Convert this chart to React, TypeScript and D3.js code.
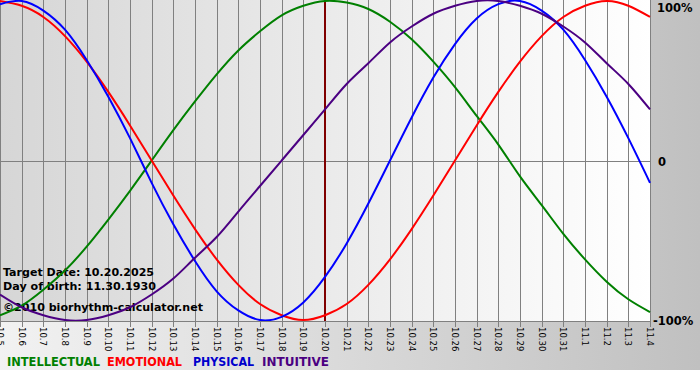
import React from "react";
import * as d3 from "d3";

const days = ["10.5","10.6","10.7","10.8","10.9","10.10","10.11","10.12","10.13","10.14","10.15","10.16","10.17","10.18","10.19","10.20","10.21","10.22","10.23","10.24","10.25","10.26","10.27","10.28","10.29","10.30","10.31","11.1","11.2","11.3","11.4"];

const intellectual = [-0.97,-0.91,-0.81,-0.69,-0.54,-0.37,-0.19,0,0.19,0.37,0.54,0.69,0.81,0.91,0.97,1.0,0.99,0.95,0.87,0.76,0.62,0.46,0.28,0.1,-0.1,-0.28,-0.46,-0.62,-0.76,-0.87,-0.95];
const emotional = [1.0,0.97,0.9,0.78,0.62,0.43,0.22,0,-0.22,-0.43,-0.62,-0.78,-0.9,-0.97,-1.0,-0.97,-0.9,-0.78,-0.62,-0.43,-0.22,0,0.22,0.43,0.62,0.78,0.9,0.97,1.0,0.97,0.9];
const physical = [0.98,1.0,0.94,0.82,0.63,0.4,0.14,-0.14,-0.4,-0.63,-0.82,-0.94,-1.0,-0.98,-0.89,-0.73,-0.52,-0.27,0,0.27,0.52,0.73,0.89,0.98,1.0,0.94,0.82,0.63,0.4,0.14,-0.14];
const intuitive = [-0.84,-0.92,-0.97,-1.0,-1.0,-0.97,-0.92,-0.84,-0.74,-0.61,-0.48,-0.32,-0.16,0,0.16,0.32,0.48,0.61,0.74,0.84,0.92,0.97,1.0,1.0,0.97,0.92,0.84,0.74,0.61,0.48,0.32];

const seriesNames = ["INTELLECTUAL", "EMOTIONAL", "PHYSICAL", "INTUITIVE"];
const yTickLabels = ["100%", "0", "-100%"];
const yTickValues = [1, 0, -1];
const targetDay = "10.20";
const infoLines = ["Target Date: 10.20.2025", "Day of birth: 11.30.1930", "©2010 biorhythm-calculator.net"];

const colors = ["#008000", "#ff0000", "#0000ff", "#4b0082"];
const legendColors = ["#008000", "#ff0000", "#0000cc", "#4b0082"];

export default function App() {
  const W = 700, H = 370;
  const plotL = 0, plotR = 650, plotT = 0, plotB = 321;
  const x = d3.scalePoint<string>().domain(days).range([plotL, plotR]);
  const y = d3.scaleLinear().domain([-1, 1]).range([plotB - 1, plotT + 1]);
  const line = d3.line<number>()
    .x((_, i) => x(days[i]) as number)
    .y((d) => y(d))
    .curve(d3.curveNatural);
  const data = [intellectual, emotional, physical, intuitive];
  const font = "'DejaVu Sans', Verdana, sans-serif";
  const crisp = (v: number) => Math.round(v) + 0.5;

  const legendX = [7, 107, 193, 262];
  const legendW = [93, 75, 61, 67];
  const infoY = [276, 290, 311];
  const infoW = [151, 153, 200];

  return (
    <svg width={W} height={380} style={{ position: "absolute", left: 0, top: 0 }} fontFamily={font}>
      <defs>
        <linearGradient id="outerBg" x1="0" x2="1" y1="0" y2="0">
          <stop offset="0" stopColor="#f2f2f2" />
          <stop offset="1" stopColor="#c0c0c0" />
        </linearGradient>
        <linearGradient id="plotBg" x1="0" x2="1" y1="0" y2="0">
          <stop offset="0" stopColor="#d6d6d6" />
          <stop offset="1" stopColor="#ffffff" />
        </linearGradient>
        <clipPath id="plotClip">
          <rect x={plotL} y={plotT} width={plotR - plotL + 1} height={plotB - plotT} />
        </clipPath>
      </defs>
      <rect x={0} y={0} width={W} height={380} fill="#ffffff" />
      <rect x={0} y={0} width={W} height={H} fill="url(#outerBg)" />
      <rect x={plotL} y={plotT} width={plotR - plotL + 1} height={plotB - plotT} fill="url(#plotBg)" />
      {days.map((d) => (
        <line key={d} x1={crisp(x(d) as number)} x2={crisp(x(d) as number)} y1={plotT} y2={plotB + 6} stroke="#808080" strokeWidth={1} />
      ))}
      <line x1={plotL} x2={plotR + 1} y1={crisp(y(0))} y2={crisp(y(0))} stroke="#808080" strokeWidth={1} />
      <line x1={plotL} x2={plotR + 1} y1={crisp(plotB)} y2={crisp(plotB)} stroke="#808080" strokeWidth={1} />
      <line x1={x(targetDay) as number} x2={x(targetDay) as number} y1={plotT} y2={plotB} stroke="#800000" strokeWidth={2} />
      <g fontSize={11} fontWeight="bold" fill="#000">
        {infoLines.map((t, i) => (
          <text key={t} x={3} y={infoY[i]} textLength={infoW[i]} lengthAdjust="spacingAndGlyphs">{t}</text>
        ))}
      </g>
      <g clipPath="url(#plotClip)">
        {data.map((s, i) => (
          <path key={seriesNames[i]} d={line(s) || ""} fill="none" stroke={colors[i]} strokeWidth={2} />
        ))}
      </g>
      <g fontSize={11.5} fontWeight="bold" fill="#000">
        {yTickValues.map((v, i) => (
          <text key={v} x={v === 0 ? 658 : v === 1 ? 657 : 653} y={y(v) + (v === 1 ? 11 : 5)}>{yTickLabels[i]}</text>
        ))}
      </g>
      <g fontSize={8.5} fill="#000">
        {days.map((d) => (
          <text key={d} transform={`translate(${(x(d) as number) - 3},${plotB + 6}) rotate(90)`} x={0} y={0}>{d}</text>
        ))}
      </g>
      <g fontSize={12} fontWeight="bold">
        {seriesNames.map((n, i) => (
          <text key={n} x={legendX[i]} y={366} fill={legendColors[i]} textLength={legendW[i]} lengthAdjust="spacingAndGlyphs">{n}</text>
        ))}
      </g>
    </svg>
  );
}
